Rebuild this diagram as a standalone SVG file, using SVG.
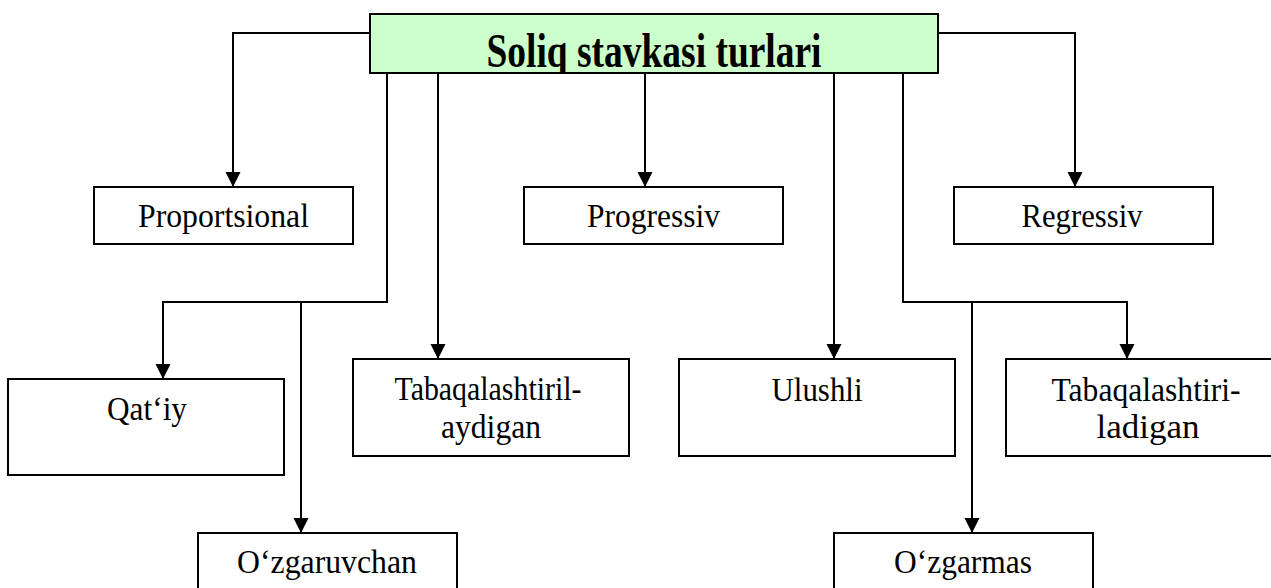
<svg xmlns="http://www.w3.org/2000/svg" width="1271" height="588" viewBox="0 0 1271 588">
<style>
.box{fill:#ffffff;stroke:#000000;stroke-width:2}
.title{fill:#ccffcc;stroke:#000000;stroke-width:2}
.lbl{font-family:"Liberation Serif","Times New Roman",serif;font-size:34px;fill:#000000;text-anchor:middle}
.ttl{font-family:"Liberation Serif","Times New Roman",serif;font-size:48px;font-weight:bold;fill:#000000;text-anchor:middle}
.con{fill:none;stroke:#000000;stroke-width:2}
</style>
<defs>
<marker id="arr" markerUnits="userSpaceOnUse" markerWidth="16" markerHeight="16" refX="14" refY="7.5" orient="auto">
<path d="M0,0 L15,7.5 L0,15 z" fill="#000000"/>
</marker>
<clipPath id="tclip"><rect x="371" y="15" width="566" height="57"/></clipPath>
</defs>
<rect width="1271" height="588" fill="#ffffff"/>
<g id="connectors">
<path class="con" d="M370,33 H233 V186" marker-end="url(#arr)"/>
<path class="con" d="M938,33 H1075 V186" marker-end="url(#arr)"/>
<path class="con" d="M387,73 V302 H163 V378" marker-end="url(#arr)"/>
<path class="con" d="M301,302 V532" marker-end="url(#arr)"/>
<path class="con" d="M438,73 V358" marker-end="url(#arr)"/>
<path class="con" d="M645,73 V186" marker-end="url(#arr)"/>
<path class="con" d="M834,73 V358" marker-end="url(#arr)"/>
<path class="con" d="M903,73 V302 H1127 V358" marker-end="url(#arr)"/>
<path class="con" d="M972,302 V532" marker-end="url(#arr)"/>
</g>
<g id="title">
<rect class="title" x="370" y="14" width="568" height="59"/>
<text class="ttl" x="654" y="67" textLength="335" lengthAdjust="spacingAndGlyphs" clip-path="url(#tclip)">Soliq stavkasi turlari</text>
</g>
<g id="proportsional">
<rect class="box" x="94" y="187" width="259" height="57"/>
<text class="lbl" x="223.5" y="227" textLength="171" lengthAdjust="spacingAndGlyphs">Proportsional</text>
</g>
<g id="progressiv">
<rect class="box" x="524" y="187" width="259" height="57"/>
<text class="lbl" x="653.5" y="227" textLength="133" lengthAdjust="spacingAndGlyphs">Progressiv</text>
</g>
<g id="regressiv">
<rect class="box" x="954" y="187" width="259" height="57"/>
<text class="lbl" x="1082" y="227" textLength="121" lengthAdjust="spacingAndGlyphs">Regressiv</text>
</g>
<g id="qatiy">
<rect class="box" x="8" y="379" width="276" height="96"/>
<text class="lbl" x="147" y="420" textLength="80" lengthAdjust="spacingAndGlyphs">Qat‘iy</text>
</g>
<g id="tabaqalashtiril-aydigan">
<rect class="box" x="353" y="359" width="276" height="97"/>
<text class="lbl" x="488" y="400" textLength="187" lengthAdjust="spacingAndGlyphs">Tabaqalashtiril-</text>
<text class="lbl" x="491" y="438" textLength="100" lengthAdjust="spacingAndGlyphs">aydigan</text>
</g>
<g id="ulushli">
<rect class="box" x="679" y="359" width="276" height="97"/>
<text class="lbl" x="817" y="401" textLength="91" lengthAdjust="spacingAndGlyphs">Ulushli</text>
</g>
<g id="tabaqalashtiri-ladigan">
<rect class="box" x="1006" y="359" width="276" height="97"/>
<text class="lbl" x="1146" y="401" textLength="189" lengthAdjust="spacingAndGlyphs">Tabaqalashtiri-</text>
<text class="lbl" x="1148" y="438" textLength="103" lengthAdjust="spacingAndGlyphs">ladigan</text>
</g>
<g id="ozgaruvchan">
<rect class="box" x="198" y="533" width="259" height="80"/>
<text class="lbl" x="327" y="573" textLength="180" lengthAdjust="spacingAndGlyphs">O‘zgaruvchan</text>
</g>
<g id="ozgarmas">
<rect class="box" x="834" y="533" width="259" height="80"/>
<text class="lbl" x="963" y="573" textLength="138" lengthAdjust="spacingAndGlyphs">O‘zgarmas</text>
</g>
</svg>
